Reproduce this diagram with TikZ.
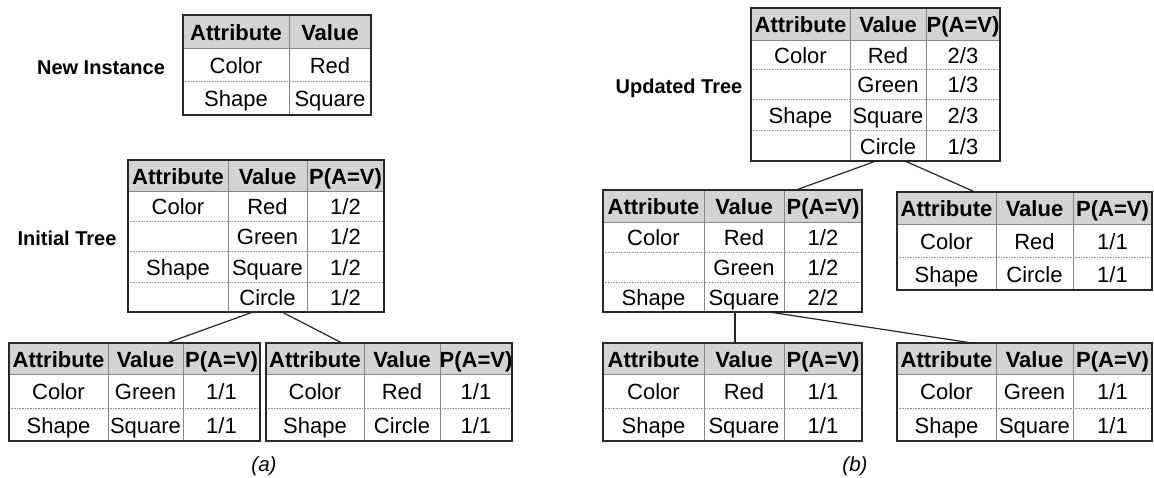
\documentclass[tikz,border=0pt]{standalone}
\usepackage{fontspec}
\setmainfont{Liberation Sans}
\definecolor{hdr}{RGB}{212,212,212}
\definecolor{colline}{RGB}{135,135,135}
\definecolor{dotline}{RGB}{150,150,150}
\definecolor{frameline}{RGB}{40,40,40}
\tikzset{
  tframe/.style={draw=frameline, line width=1.4pt, inner sep=0pt, outer sep=0pt, anchor=north west},
  colrule/.style={draw=colline, line width=0.8pt},
  hrule/.style={draw=colline, line width=0.8pt},
  dotrow/.style={draw=dotline, line width=0.6pt, dash pattern=on 0.8pt off 0.8pt},
  cell/.style={font=\fontsize{22}{26}\selectfont, anchor=base, inner sep=0pt},
  head/.style={cell, font=\fontsize{22}{26}\selectfont\bfseries},
  tag/.style={font=\fontsize{20}{23}\selectfont\bfseries, anchor=base, inner sep=0pt},
  caption/.style={font=\fontsize{20.5}{24}\selectfont\itshape, anchor=base, inner sep=0pt},
  link/.style={draw=black!85, line width=1.2pt},
}
% #1 name, #2 left, #3 right, #4 top, #5 header bottom, #6 bottom,
% #7 inner column x, #8 dotted row y
\newcommand\tabgrid[8]{%
  \fill[hdr] (#2,#4) rectangle (#3,#5);
  \draw[hrule] (#2,#5) -- (#3,#5);
  \foreach \r in {#8} {\draw[dotrow] (#2,\r) -- (#3,\r);}
  \foreach \c in {#7} {\draw[colrule] (\c,#4) -- (\c,#6);}
  \node[tframe, minimum width={#3pt-#2pt}, minimum height={#6pt-#4pt}] (#1) at (#2,#4) {};
}
\begin{document}
\begin{tikzpicture}[x=1pt, y=-1pt]
\useasboundingbox (0,0) rectangle (1154,477);

% ---------- (a) ----------
\node[tag] (lblnew) at (101,74) {New Instance};
\tabgrid{ni}{183}{371}{15}{48}{115}{289}{81}
\node[head] (ni-h1) at (236,40) {Attribute};
\node[head] (ni-h2) at (330,40) {Value};
\node[cell] (ni-11) at (236,73) {Color};
\node[cell] (ni-12) at (330,73) {Red};
\node[cell] (ni-21) at (236,106.5) {Shape};
\node[cell] (ni-22) at (330,106.5) {Square};

\node[tag] (lblinit) at (67,245) {Initial Tree};
\tabgrid{it}{128}{384}{160}{191}{312}{228,307}{221,251,282}
\node[head] (it-h1) at (178,184) {Attribute};
\node[head] (it-h2) at (267.5,184) {Value};
\node[head] (it-h3) at (345.5,184) {P(A=V)};
\node[cell] (it-11) at (178,214.5) {Color};
\node[cell] (it-12) at (267.5,214.5) {Red};
\node[cell] (it-13) at (345.5,214.5) {1/2};
\node[cell] (it-22) at (267.5,244.5) {Green};
\node[cell] (it-23) at (345.5,244.5) {1/2};
\node[cell] (it-31) at (178,275) {Shape};
\node[cell] (it-32) at (267.5,275) {Square};
\node[cell] (it-33) at (345.5,275) {1/2};
\node[cell] (it-42) at (267.5,305.5) {Circle};
\node[cell] (it-43) at (345.5,305.5) {1/2};

\tabgrid{a1}{9}{260}{343}{374}{441}{108,183}{408}
\node[head] (a1-h1) at (58.5,367) {Attribute};
\node[head] (a1-h2) at (145.5,367) {Value};
\node[head] (a1-h3) at (221.5,367) {P(A=V)};
\node[cell] (a1-11) at (58.5,399.5) {Color};
\node[cell] (a1-12) at (145.5,399.5) {Green};
\node[cell] (a1-13) at (221.5,399.5) {1/1};
\node[cell] (a1-21) at (58.5,433) {Shape};
\node[cell] (a1-22) at (145.5,433) {Square};
\node[cell] (a1-23) at (221.5,433) {1/1};

\tabgrid{a2}{266}{512}{343}{374}{441}{364,440}{408}
\node[head] (a2-h1) at (315,367) {Attribute};
\node[head] (a2-h2) at (402,367) {Value};
\node[head] (a2-h3) at (476,367) {P(A=V)};
\node[cell] (a2-11) at (315,399.5) {Color};
\node[cell] (a2-12) at (402,399.5) {Red};
\node[cell] (a2-13) at (476,399.5) {1/1};
\node[cell] (a2-21) at (315,433) {Shape};
\node[cell] (a2-22) at (402,433) {Circle};
\node[cell] (a2-23) at (476,433) {1/1};

\coordinate (it-s1) at (253,312);
\coordinate (it-s2) at (282,312);
\coordinate (a1-n) at (167,343);
\coordinate (a2-n) at (342,343);
\draw[link] (it-s1) -- (a1-n);
\draw[link] (it-s2) -- (a2-n);

\node[caption] (capa) at (264,471) {(a)};

% ---------- (b) ----------
\node[tag] (lblupd) at (679,93) {Updated Tree};
\tabgrid{up}{751}{1000}{8}{40}{161}{850,926}{69,99,130}
\node[head] (up-h1) at (800.5,32) {Attribute};
\node[head] (up-h2) at (888,32) {Value};
\node[head] (up-h3) at (963,32) {P(A=V)};
\node[cell] (up-11) at (800.5,63) {Color};
\node[cell] (up-12) at (888,63) {Red};
\node[cell] (up-13) at (963,63) {2/3};
\node[cell] (up-22) at (888,92.5) {Green};
\node[cell] (up-23) at (963,92.5) {1/3};
\node[cell] (up-31) at (800.5,123) {Shape};
\node[cell] (up-32) at (888,123) {Square};
\node[cell] (up-33) at (963,123) {2/3};
\node[cell] (up-42) at (888,154) {Circle};
\node[cell] (up-43) at (963,154) {1/3};

\tabgrid{b1}{603}{862}{190}{222}{312}{704,784}{252,282}
\node[head] (b1-h1) at (653.5,214.5) {Attribute};
\node[head] (b1-h2) at (744,214.5) {Value};
\node[head] (b1-h3) at (823,214.5) {P(A=V)};
\node[cell] (b1-11) at (653.5,245.5) {Color};
\node[cell] (b1-12) at (744,245.5) {Red};
\node[cell] (b1-13) at (823,245.5) {1/2};
\node[cell] (b1-22) at (744,275.5) {Green};
\node[cell] (b1-23) at (823,275.5) {1/2};
\node[cell] (b1-31) at (653.5,305.5) {Shape};
\node[cell] (b1-32) at (744,305.5) {Square};
\node[cell] (b1-33) at (823,305.5) {2/2};

\tabgrid{b2}{897}{1152}{192}{224}{290}{996,1073}{257}
\node[head] (b2-h1) at (946.5,216.5) {Attribute};
\node[head] (b2-h2) at (1034.5,216.5) {Value};
\node[head] (b2-h3) at (1112.5,216.5) {P(A=V)};
\node[cell] (b2-11) at (946.5,249) {Color};
\node[cell] (b2-12) at (1034.5,249) {Red};
\node[cell] (b2-13) at (1112.5,249) {1/1};
\node[cell] (b2-21) at (946.5,282) {Shape};
\node[cell] (b2-22) at (1034.5,282) {Circle};
\node[cell] (b2-23) at (1112.5,282) {1/1};

\tabgrid{b3}{603}{862}{343}{374}{441}{704,784}{408}
\node[head] (b3-h1) at (653.5,367) {Attribute};
\node[head] (b3-h2) at (744,367) {Value};
\node[head] (b3-h3) at (823,367) {P(A=V)};
\node[cell] (b3-11) at (653.5,399.5) {Color};
\node[cell] (b3-12) at (744,399.5) {Red};
\node[cell] (b3-13) at (823,399.5) {1/1};
\node[cell] (b3-21) at (653.5,433) {Shape};
\node[cell] (b3-22) at (744,433) {Square};
\node[cell] (b3-23) at (823,433) {1/1};

\tabgrid{b4}{897}{1152}{343}{374}{441}{996,1073}{408}
\node[head] (b4-h1) at (946.5,367) {Attribute};
\node[head] (b4-h2) at (1034.5,367) {Value};
\node[head] (b4-h3) at (1112.5,367) {P(A=V)};
\node[cell] (b4-11) at (946.5,399.5) {Color};
\node[cell] (b4-12) at (1034.5,399.5) {Green};
\node[cell] (b4-13) at (1112.5,399.5) {1/1};
\node[cell] (b4-21) at (946.5,433) {Shape};
\node[cell] (b4-22) at (1034.5,433) {Square};
\node[cell] (b4-23) at (1112.5,433) {1/1};

\coordinate (up-s1) at (876,161);
\coordinate (up-s2) at (905,161);
\coordinate (b1-n) at (796,190);
\coordinate (b2-n) at (975,192);
\draw[link] (up-s1) -- (b1-n);
\draw[link] (up-s2) -- (b2-n);

\coordinate (b1-s1) at (735,312);
\coordinate (b1-s2) at (769,312);
\coordinate (b3-n) at (735,343);
\coordinate (b4-n) at (972,343);
\draw[link] (b1-s1) -- (b3-n);
\draw[link] (b1-s2) -- (b4-n);

\node[caption] (capb) at (855,471) {(b)};
\end{tikzpicture}
\end{document}
